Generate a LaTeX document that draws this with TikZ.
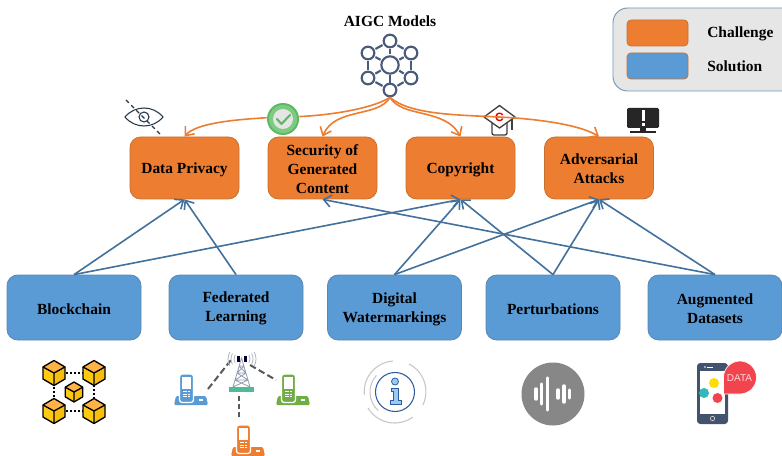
\documentclass[tikz,border=0pt]{standalone}
\usepackage{fontspec}
\setmainfont{Liberation Serif}
\newfontfamily\iconsans{Liberation Sans}
\usetikzlibrary{arrows.meta}
\definecolor{chal}{HTML}{ED7D31}
\definecolor{solu}{HTML}{5B9BD5}
\definecolor{chalb}{HTML}{C8712F}
\definecolor{solub}{HTML}{5A88B0}
\definecolor{flow}{HTML}{41719C}
\definecolor{slateic}{HTML}{4A5C7A}
\definecolor{legfill}{HTML}{E7E6E6}
\definecolor{legline}{HTML}{6F97BC}
\definecolor{eyec}{HTML}{24384A}
\definecolor{cubey}{HTML}{FFCB12}
\definecolor{cubed}{HTML}{F7BE0C}
\definecolor{cubet}{HTML}{FFB347}
\definecolor{phgreen}{HTML}{70AD47}
\definecolor{gring}{HTML}{5DB866}
\definecolor{gmid}{HTML}{7CCB80}
\definecolor{bubr}{HTML}{F2444E}
\definecolor{infoline}{HTML}{2F5C9E}
\definecolor{infofill}{HTML}{9CCBF0}
\definecolor{towerg}{HTML}{4DBB96}
\newcommand\dn{\rule{0pt}{10.5pt}}
\newcommand\dnb{\rule{0pt}{9.4pt}}
\tikzset{
  x=0.75pt,y=-0.75pt,
  lab/.style={font=\fontsize{11.6}{14.25}\selectfont\bfseries,text=black,align=center,inner sep=0pt},
  chalbox/.style={draw=chalb,fill=chal,line width=0.6pt,rounded corners=8pt,minimum width=81.75pt,minimum height=46.5pt,lab},
  solubox/.style={draw=solub,fill=solu,line width=0.6pt,rounded corners=8pt,minimum width=100.5pt,minimum height=48.75pt,lab},
  legbox/.style={rounded corners=3pt,line width=0.6pt,minimum width=45.75pt,minimum height=19.5pt,inner sep=0pt},
  blueflow/.style={draw=flow,line width=1.2pt,-{Straight Barb[length=5.5pt,width=9pt,line width=1.2pt]}},
  orangeflow/.style={draw=chal,line width=1.2pt,-{Straight Barb[length=5.5pt,width=9pt,line width=1.2pt]}},
  modelnode/.style={circle,draw=slateic,line width=1.6pt,fill=white,minimum size=9.5pt,inner sep=0pt},
  modellink/.style={draw=slateic,line width=1.6pt,shorten >=0.8pt,shorten <=0.8pt},
  pics/cubeic/.style={code={
    \begin{scope}[scale=#1,line join=round,line width=1pt]
      \fill[cubey] (-11,-6)--(0,0)--(0,12.5)--(-11,6)--cycle;
      \fill[cubed] (11,-6)--(0,0)--(0,12.5)--(11,6)--cycle;
      \fill[cubet] (0,-12.5)--(11,-6)--(0,0)--(-11,-6)--cycle;
      \draw[black] (0,-12.5)--(11,-6)--(11,6)--(0,12.5)--(-11,6)--(-11,-6)--cycle;
      \draw[black] (-11,-6)--(0,0)--(11,-6) (0,0)--(0,12.5);
    \end{scope}}},
  pics/deskphone/.style={code={
    \fill[#1,rounded corners=1pt] (0,0)--(2,-9)--(32,-9)--(34,0)--cycle;
    \draw[white,line width=1pt,fill=#1,rounded corners=2pt] (5.5,-31) rectangle (19.5,-2.5);
    \fill[white] (8,-28) rectangle (17,-16);
    \foreach \a in {8.5,11.3,14.1}{\foreach \b in {-14,-11.5,-9}{\fill[white] (\a,\b) rectangle ++(2,1.3);}}
    \fill[white] (25,-6) rectangle (29,-4);
  }}
}
\begin{document}
\begin{tikzpicture}
\useasboundingbox (0,0) rectangle (782,456);
\fill[white] (0,0) rectangle (782,456);
% legend
\begin{scope}
\clip (0,0) rectangle (782,456);
\draw[legline,fill=legfill,line width=0.7pt,rounded corners=11pt] (613,8) rectangle (800,91);
\end{scope}
\node[legbox,draw=chalb,fill=chal] (legc) at (657.5,33) {};
\node[legbox,draw=chalb,fill=solu] (legs) at (657.5,66) {};
\node[lab,anchor=west] (legct) at (707,34) {Challenge};
\node[lab,anchor=west] (legst) at (707,66.5) {Solution};
% title + model icon
\node[lab] (title) at (390,21.5) {AIGC Models};
\node[modelnode,minimum size=13pt] (m0) at (390,65) {};
\node[modelnode] (m1) at (390,41) {};
\node[modelnode] (m2) at (411,53) {};
\node[modelnode] (m3) at (411,78) {};
\node[modelnode] (m4) at (390,90) {};
\node[modelnode] (m5) at (368,78) {};
\node[modelnode] (m6) at (368,53) {};
\draw[modellink] (m1)--(m2);
\draw[modellink] (m2)--(m3);
\draw[modellink] (m3)--(m4);
\draw[modellink] (m4)--(m5);
\draw[modellink] (m5)--(m6);
\draw[modellink] (m6)--(m1);
\draw[modellink] (m0)--(m1);
\draw[modellink] (m0)--(m2);
\draw[modellink] (m0)--(m3);
\draw[modellink,shorten >=0pt,shorten <=0pt] (m0)--(m4);
\draw[modellink] (m0)--(m5);
\draw[modellink] (m0)--(m6);
% boxes
\node[chalbox] (t1) at (184.5,168) {\dn Data Privacy};
\node[chalbox] (t2) at (322.5,168) {\dnb Security of\\Generated\\Content};
\node[chalbox] (t3) at (460.5,168) {\dn Copyright};
\node[chalbox] (t4) at (599,168) {\dnb Adversarial\\Attacks};
\node[solubox] (b1) at (74,307.5) {\dn Blockchain};
\node[solubox] (b2) at (236,307.5) {\dnb Federated\\Learning};
\node[solubox] (b3) at (394.5,307.5) {\dn Digital\\Watermarkings};
\node[solubox] (b4) at (553,307.5) {\dn Perturbations};
\node[solubox] (b5) at (715,307.5) {\dnb Augmented\\Datasets};
% graduation cap (under the orange line)
\begin{scope}[line width=1pt,line join=round]
\draw[black!75,rounded corners=1.5pt] (492,122)--(492,135)--(507,135)--(507,122);
\draw[black!75,fill=white] (484,117)--(499.5,105.5)--(515,117)--(499.5,128)--cycle;
\draw[black!75] (512,119)--(512,130);
\end{scope}
\node[font=\iconsans\bfseries\fontsize{9}{9}\selectfont,text=red!85!black,inner sep=0pt] (capc) at (499.5,117) {C};
% orange connectors
\draw[orangeflow] (m4.south) .. controls (370,110) and (320,117) .. (283,117) .. controls (230,119) and (195,124) .. (t1.north);
\draw[orangeflow] (m4.south) .. controls (378,118) and (335,107) .. (t2.north);
\draw[orangeflow] (m4.south) .. controls (402,118) and (445,108) .. (t3.north);
\draw[orangeflow] (m4.south) .. controls (410,115) and (460,115) .. (499,117) .. controls (540,119) and (580,125) .. (t4.north);
% blue connectors
\draw[blueflow] (b1.north) -- (t1.south);
\draw[blueflow] (b1.north) -- (t3.south);
\draw[blueflow] (b2.north) -- (t1.south);
\draw[blueflow] (b3.north) -- (t3.south);
\draw[blueflow] (b3.north) -- (t4.south);
\draw[blueflow] (b4.north) -- (t3.south);
\draw[blueflow] (b4.north) -- (t4.south);
\draw[blueflow] (b5.north) -- (t4.south);
\draw[blueflow] (b5.north) -- (t2.south);
% eye
\begin{scope}[line width=0.8pt]
\draw[eyec] (125,117) .. controls (135,105) and (153,105) .. (163,117) .. controls (153,129) and (135,129) .. (125,117)--cycle;
\draw[eyec] (144,117) circle (5);
\draw[eyec,dash pattern=on 3pt off 2.5pt] (126,100)--(160,134);
\end{scope}
% check badge
\fill[white] (283,119) circle (16.5);
\fill[gring] (283,119) circle (16);
\fill[gmid] (283,119) circle (14);
\fill[black!10] (283,119) circle (10);
\draw[gring,line width=1.6pt,line cap=round,line join=round] (277,119)--(281.5,124)--(290,115);
% monitor
\fill[black!85,rounded corners=1pt] (627,108) rectangle (659,128);
\fill[black!85] (640,128) rectangle (646,131);
\fill[black!85] (630,131) rectangle (656,133.5);
\fill[white] (642,110) rectangle (644.5,121);
\fill[white] (642,123) rectangle (644.5,126);
% blockchain icon
\draw[black,line width=1pt,dash pattern=on 1.5pt off 1.5pt] (54,373)--(94,373)--(94,411)--(54,411)--cycle;
\pic at (54,373) {cubeic=1};
\pic at (94,373) {cubeic=1};
\pic at (54,411) {cubeic=1};
\pic at (94,411) {cubeic=1};
\pic at (74,392) {cubeic=0.8};
% federated icon
\draw[black!65,line width=1.5pt,dash pattern=on 5pt off 2.5pt] (208,389)--(231,360);
\draw[black!65,line width=1.5pt,dash pattern=on 5pt off 2.5pt] (250,365)--(276,380);
\draw[black!65,line width=1.5pt,dash pattern=on 4pt off 2pt] (239,396)--(239,417);
\draw[slateic!60,line width=0.6pt] (233,387)--(241.5,358)--(250,387) (235,380)--(248,380) (237,373)--(246,373) (239,366)--(244,366)
  (235,380)--(246,373) (248,380)--(237,373) (237,373)--(244,366) (246,373)--(239,366) (233,387)--(248,380) (250,387)--(235,380);
\fill[black!80!blue] (237,356) rectangle (240,362);
\fill[black!80!blue] (243.5,356) rectangle (246.5,362);
\foreach \rr in {8,11,14}{
  \draw[slateic!45,line width=0.6pt] (242,359) ++(150:\rr) arc (150:210:\rr);
  \draw[slateic!45,line width=0.6pt] (242,359) ++(-30:\rr) arc (-30:30:\rr);
}
\fill[towerg] (229,387) rectangle (254,392);
\pic at (174,405) {deskphone=solu};
\pic at (276,405) {deskphone=phgreen};
\pic at (231,456) {deskphone=chal};
% info icon
\draw[infoline,line width=0.8pt] (395,392) circle (19.5);
\draw[black!22,line width=0.8pt] (393,361) arc (-94:-185:31);
\draw[black!22,line width=0.8pt] (409,364) arc (-63:26:31);
\draw[black!22,line width=0.8pt] (368,408) arc (149:54:31);
\draw[black!22,line width=0.8pt] (376.4,375.3) arc (-138:-228:25);
\draw[fill=infofill,draw=infoline,line width=0.6pt] (395,381.5) circle (3.5);
\draw[fill=infofill,draw=infoline,line width=0.6pt] (391,388)--(398,388)--(398,400)--(401,400)--(401,404)--(390.5,404)--(390.5,400)--(393.5,400)--(393.5,391)--(391,391)--cycle;
% sound icon
\fill[black!47] (553,394) circle (31.5);
\foreach \bx/\bh in {536/5,541.7/10,547.3/16,558/4,564/8,569.3/4}{
  \draw[white,line width=2.6pt,line cap=round] (\bx,394-\bh)--(\bx,394+\bh);
}
% data phone icon
\fill[slateic!90!black,rounded corners=2.5pt] (697,363) rectangle (728,424);
\fill[white] (700,371) rectangle (725,414);
\fill[white] (707,366.5) rectangle (713,367.5);
\fill[white] (705,367) circle (0.8);
\draw[white!80!black,line width=0.5pt] (712.5,418.5) circle (2.2);
\fill[yellow!80!orange] (714,383) circle (5);
\fill[teal!70!cyan!80!white] (704,393) circle (5);
\fill[bubr] (717.5,398) circle (5);
\draw[white,line width=0.5pt,fill=bubr] (723.5,377.5) arc (180:270:16.5) arc (270:450:16.5) -- (723.5,394) -- cycle;
\node[font=\iconsans\fontsize{7.5}{7.5}\selectfont,text=white!85!red,inner sep=0pt] (datat) at (739.5,378) {DATA};
\end{tikzpicture}
\end{document}
